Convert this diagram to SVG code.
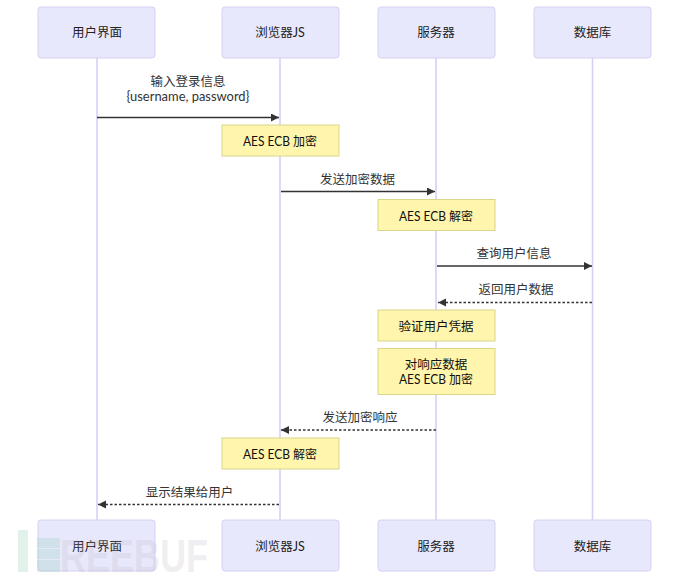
<svg xmlns="http://www.w3.org/2000/svg" width="690" height="579" viewBox="0 0 690 579">
<style>
text{font-family:"Lato","Noto Sans CJK SC",sans-serif;font-size:12.500px;text-anchor:middle;fill:#333}
.actor{fill:#e8e8fc;stroke:#d6d0f4;stroke-width:1}
.actor-t{fill:#222}
.life{stroke:#d6d0f4;stroke-width:1.6;fill:none}
.msg{stroke:#333;stroke-width:1.3;fill:none}
.dash{stroke-dasharray:2.500 2}
.note{fill:#fff5ad;stroke:#d9d58c;stroke-width:1}
.note-t{fill:#111}
.wm{font-family:"Liberation Sans",sans-serif;font-size:46px;font-weight:700;fill:#b8b8c4;fill-opacity:.24;text-anchor:start}
.wm-g{fill:#8ccbb0;fill-opacity:.26}
</style>
<defs>
<marker id="arrow" markerUnits="userSpaceOnUse" markerWidth="9" markerHeight="9" refX="8" refY="4" orient="auto-start-reverse"><path d="M0 0L8 4L0 8Z" fill="#333"/></marker>
</defs>
<rect width="690" height="579" fill="#fff"/>
<g id="connectors">
<path class="life" d="M97 58V520M280 58V520M436 58V520M592.500 58V520"/>
<path class="msg" d="M97 117.500H279" marker-end="url(#arrow)"/>
<path class="msg" d="M281 191.500H435" marker-end="url(#arrow)"/>
<path class="msg" d="M437 266H592" marker-end="url(#arrow)"/>
<path class="msg dash" d="M592 302.500H438" marker-end="url(#arrow)"/>
<path class="msg dash" d="M436 430H281" marker-end="url(#arrow)"/>
<path class="msg dash" d="M279 504.500H98" marker-end="url(#arrow)"/>
<text x="188" y="85.500">输入登录信息</text>
<text x="188" y="100.500" textLength="123" lengthAdjust="spacingAndGlyphs">{username, password}</text>
<text x="357.500" y="183.500">发送加密数据</text>
<text x="514" y="258">查询用户信息</text>
<text x="516" y="294">返回用户数据</text>
<text x="360" y="421.500">发送加密响应</text>
<text x="189.500" y="496.500">显示结果给用户</text>
</g>
<g id="actor-ui-top"><rect class="actor" x="38" y="7" width="117" height="51" rx="3"/><text class="actor-t" x="97" y="36.500">用户界面</text></g>
<g id="actor-js-top"><rect class="actor" x="222" y="7" width="117" height="51" rx="3"/><text class="actor-t" x="280" y="36.500">浏览器JS</text></g>
<g id="actor-server-top"><rect class="actor" x="378" y="7" width="117" height="51" rx="3"/><text class="actor-t" x="436" y="36.500">服务器</text></g>
<g id="actor-db-top"><rect class="actor" x="534" y="7" width="117" height="51" rx="3"/><text class="actor-t" x="592.500" y="36.500">数据库</text></g>
<g id="note-encrypt"><rect class="note" x="222" y="125" width="117" height="31"/><text class="note-t" x="280" y="145.500" textLength="74" lengthAdjust="spacingAndGlyphs">AES ECB 加密</text></g>
<g id="note-decrypt"><rect class="note" x="378" y="199.500" width="117" height="31"/><text class="note-t" x="436" y="220.500" textLength="74" lengthAdjust="spacingAndGlyphs">AES ECB 解密</text></g>
<g id="note-verify"><rect class="note" x="378" y="310" width="117" height="31"/><text class="note-t" x="436" y="330.500">验证用户凭据</text></g>
<g id="note-response"><rect class="note" x="378" y="348.500" width="117" height="46"/><text class="note-t" x="436" y="368.500">对响应数据</text><text class="note-t" x="436" y="383.500" textLength="74" lengthAdjust="spacingAndGlyphs">AES ECB 加密</text></g>
<g id="note-decrypt2"><rect class="note" x="222" y="438" width="117" height="31"/><text class="note-t" x="280" y="458.500" textLength="74" lengthAdjust="spacingAndGlyphs">AES ECB 解密</text></g>
<g id="actor-ui-bottom"><rect class="actor" x="38" y="520" width="117" height="51" rx="3"/><text class="actor-t" x="97" y="550.500">用户界面</text></g>
<g id="actor-js-bottom"><rect class="actor" x="222" y="520" width="117" height="51" rx="3"/><text class="actor-t" x="280" y="550.500">浏览器JS</text></g>
<g id="actor-server-bottom"><rect class="actor" x="378" y="520" width="117" height="51" rx="3"/><text class="actor-t" x="436" y="550.500">服务器</text></g>
<g id="actor-db-bottom"><rect class="actor" x="534" y="520" width="117" height="51" rx="3"/><text class="actor-t" x="592.500" y="550.500">数据库</text></g>
<g id="watermark">
<rect class="wm-g" x="18" y="530" width="10" height="42"/>
<rect class="wm-g" x="37" y="538" width="23" height="10"/>
<rect class="wm-g" x="37" y="549" width="23" height="10"/>
<rect class="wm-g" x="37" y="560" width="23" height="12"/>
<text class="wm" x="60" y="572" textLength="148" lengthAdjust="spacingAndGlyphs">REEBUF</text>
</g>
</svg>
